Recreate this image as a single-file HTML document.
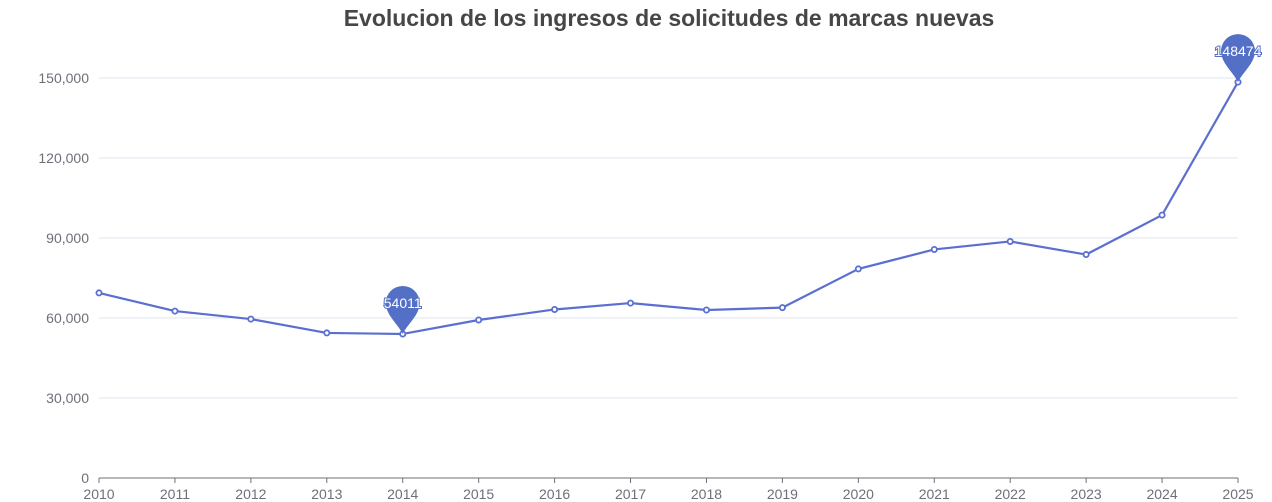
<!DOCTYPE html>
<html><head><meta charset="utf-8">
<style>
html,body{margin:0;padding:0;background:#fff;}
svg{display:block;font-family:"Liberation Sans",sans-serif;}
</style></head>
<body>
<svg id="chart" width="1272" height="502">
<text x="669" y="26" text-anchor="middle" font-size="23" font-weight="bold" fill="#464646">Evolucion de los ingresos de solicitudes de marcas nuevas</text>
<g id="grid"></g>
<g id="axes"></g>
<g id="series"></g>
<g id="markers"></g>
</svg>
<script>
const categories = ["2010","2011","2012","2013","2014","2015","2016","2017","2018","2019","2020","2021","2022","2023","2024","2025"];
const values = [69400,62600,59600,54400,54011,59250,63200,65600,63000,63900,78400,85700,88700,83800,98600,148474];
const yTicks = [0,30000,60000,90000,120000,150000];
const yTickLabels = ["0","30,000","60,000","90,000","120,000","150,000"];

const NS="http://www.w3.org/2000/svg";
const x0=99,x1=1238,yb=478,yMax=150000,yTop=78;
const xs=i=>x0+(x1-x0)*i/(categories.length-1);
const ys=v=>yb-(yb-yTop)*v/yMax;
function mk(tag,attrs,parent){const e=document.createElementNS(NS,tag);for(const k in attrs)e.setAttribute(k,attrs[k]);parent.appendChild(e);return e;}
const grid=document.getElementById('grid'),axes=document.getElementById('axes'),series=document.getElementById('series'),markers=document.getElementById('markers');

yTicks.forEach((t,i)=>{
  const y=ys(t);
  if(t>0){const l=mk('line',{x1:x0,x2:x1,y1:y,y2:y,stroke:'#e0e6f1','stroke-width':1},grid);
  
  }
  const tx=mk('text',{x:89,y:y+5,'text-anchor':'end','font-size':14,fill:'#6e7079'},axes);
  tx.textContent=yTickLabels[i];
  
  
});
const ax=mk('line',{x1:x0,x2:x1,y1:yb,y2:yb,stroke:'#6e7079','stroke-width':1},axes);


categories.forEach((c,i)=>{
  const x=xs(i);
  const tk=mk('line',{x1:x,x2:x,y1:yb,y2:yb+5,stroke:'#6e7079'},axes);
  
  
  const tx=mk('text',{x:x,y:yb+21,'text-anchor':'middle','font-size':14,fill:'#6e7079'},axes);
  tx.textContent=c;
  
  
});
const pts=values.map((v,i)=>xs(i)+','+ys(v)).join(' ');
const line=mk('polyline',{points:pts,fill:'none',stroke:'#5b6fd0','stroke-width':2.2,'stroke-linejoin':'round'},series);


values.forEach((v,i)=>{
  const c=mk('circle',{cx:xs(i),cy:ys(v),r:2.6,fill:'#fff',stroke:'#5b6fd0','stroke-width':1.8},series);
  
  
});
function pin(i,name){
  const x=xs(i),y=ys(values[i]);const r=17,cy=y-31;
  const g=mk('g',{},markers);
  
  
  mk('path',{d:`M${x},${y} C${x-4},${cy+22} ${x-r},${cy+12} ${x-r},${cy} A${r},${r} 0 1 1 ${x+r},${cy} C${x+r},${cy+12} ${x+4},${cy+22} ${x},${y}Z`,fill:'#5470c6'},g);
  const t=mk('text',{x:x,y:cy+5,'text-anchor':'middle','font-size':14,fill:'#fff',stroke:'#5470c6','stroke-width':2,'paint-order':'stroke'},g);
  t.textContent=String(values[i]);
}
let mx=0,mn=0;values.forEach((v,i)=>{if(v>values[mx])mx=i;if(v<values[mn])mn=i;});
pin(mx,'max-marker');pin(mn,'min-marker');
</script>
</body></html>
